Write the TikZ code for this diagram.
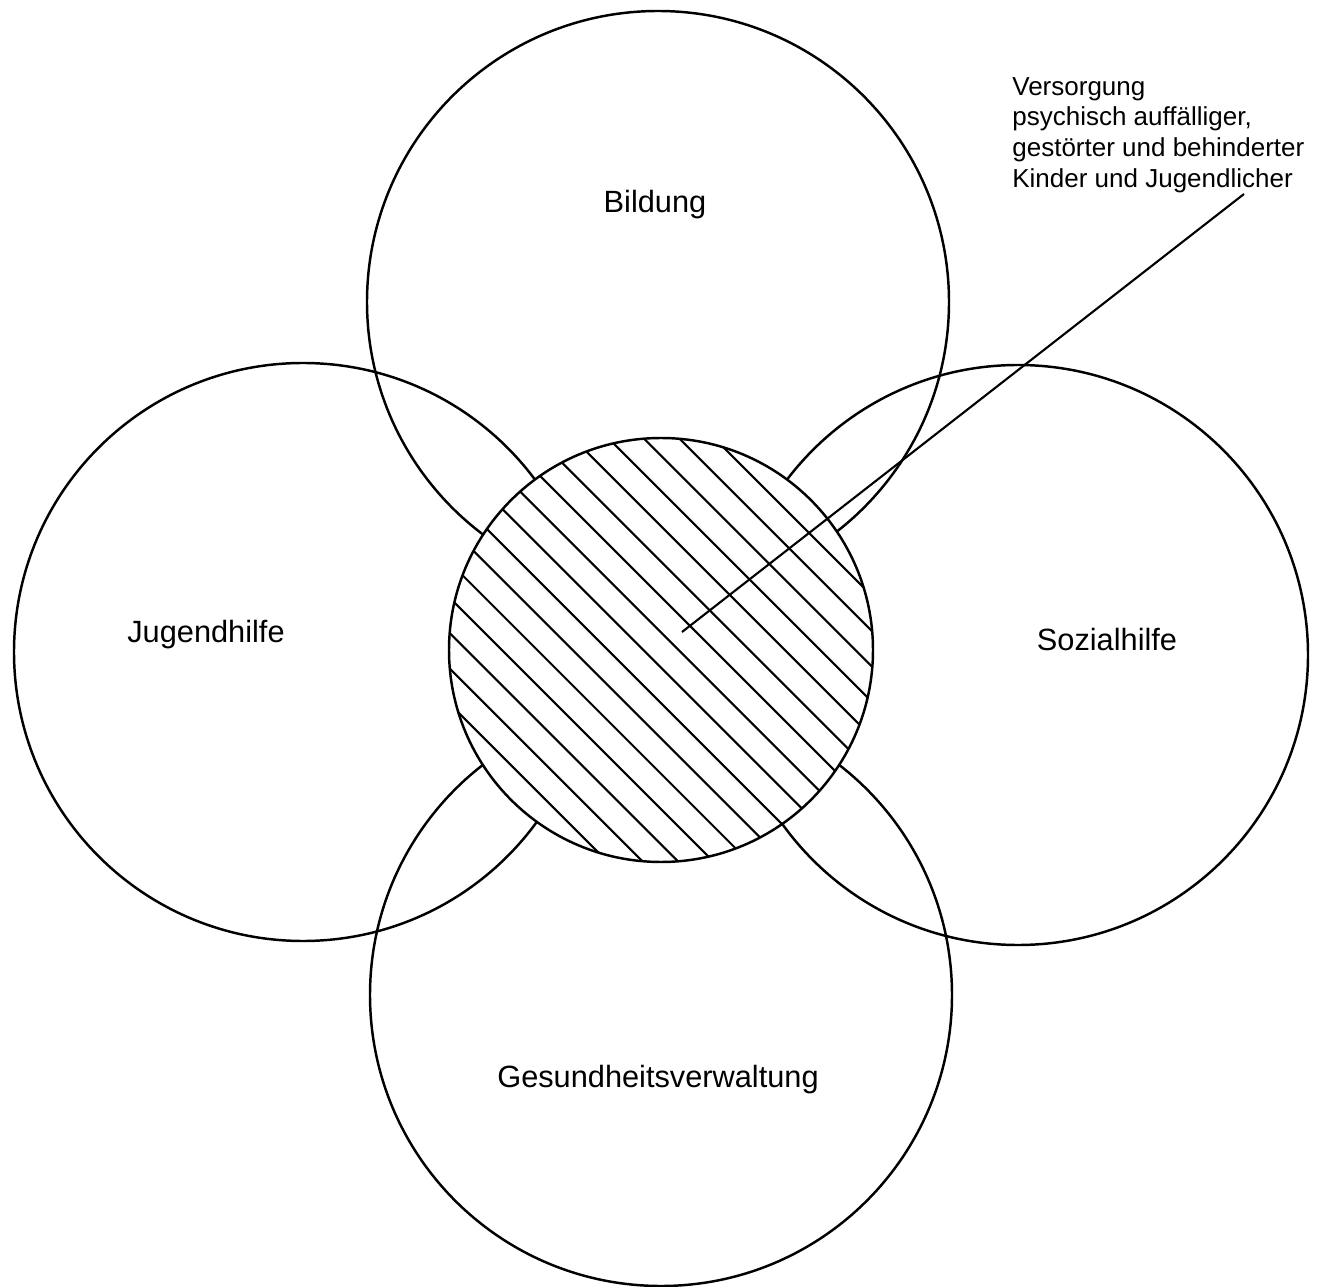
\documentclass[tikz,border=0pt]{standalone}
\usepackage{fontspec}
\setmainfont{Liberation Sans}
\tikzset{
  ring/.style={line width=1.4pt},
  hatch/.style={line width=1.2pt},
  lead/.style={line width=1.2pt},
  field/.style={inner sep=0pt, font=\fontsize{17.5}{20}\selectfont}
}

\begin{document}
\begin{tikzpicture}[x=0.02cm, y=-0.02cm, font=\fontsize{14.8}{17.5}\selectfont]
	\useasboundingbox (0,0) rectangle (1320,1287);
	% die vier Bereiche
	\draw[ring] (658,302) circle (291);
	\draw[ring] (303,652) circle (289);
	\draw[ring] (1018,655) circle (290);
	\draw[ring] (661,995) circle (291);
	% Schnittmenge
	\fill[white] (661,650) circle (212);
	\begin{scope}
		\clip (661,650) circle (212);
		\foreach \d in {-9,...,8}
			\draw[hatch, shift={(661,650)}] ({(\d+0.5)*17.68-320}, {-(\d+0.5)*17.68-320}) -- ++(640,640);
	\end{scope}
	\draw[ring] (661,650) circle (212);
	\node[field] (bildung) at (655,205) {Bildung};
	\node[field] (jugend) at (206,635) {Jugendhilfe};
	\node[field] (sozial) at (1107,640) {Sozialhilfe};
	\node[field] (gesund) at (658,1080) {Gesundheitsverwaltung};
	\node[inner sep=0pt, anchor=north west, align=left] (versorgung) at (1012,77)
		{Versorgung\\psychisch auffälliger,\\gestörter und behinderter\\Kinder und Jugendlicher};
	\coordinate (spitze) at (682,632);
	\coordinate (ende) at (1244,194);
	\draw[lead] (spitze) -- (ende);
\end{tikzpicture}
\end{document}
